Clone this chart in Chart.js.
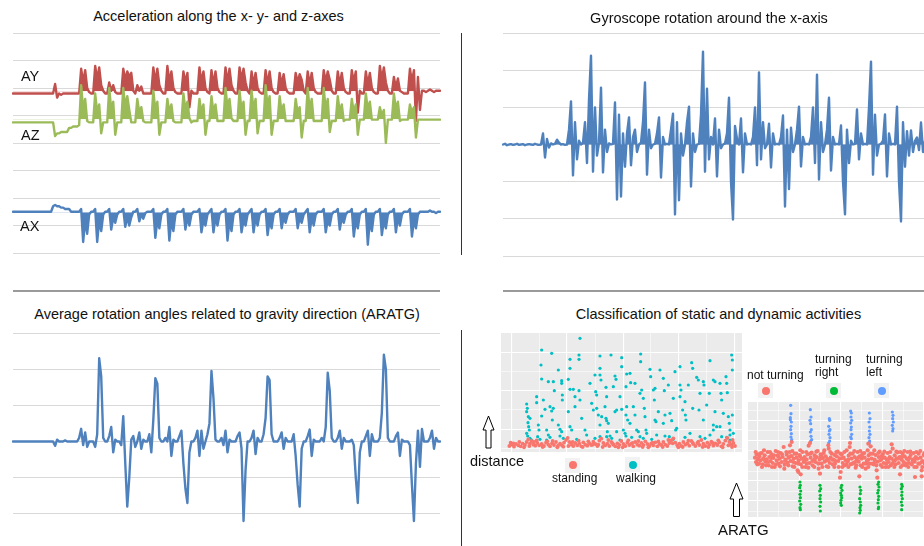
<!DOCTYPE html>
<html><head><meta charset="utf-8"><title>Sensor signals and activity classification</title>
<script src="https://cdn.jsdelivr.net/npm/chart.js@4.4.1/dist/chart.umd.min.js"></script>
<style>
html,body{margin:0;padding:0;background:#fff;width:924px;height:546px;overflow:hidden;position:relative;font-family:"Liberation Sans",Arial,sans-serif;color:#111}
canvas{position:absolute}
.t{position:absolute;white-space:nowrap;line-height:1}
.title{font-size:14.5px;text-align:center;width:460px}
.lab{font-size:14.5px}
.sm{font-size:12px}
.ln{position:absolute}
.key{position:absolute;width:15px;height:15px;background:#F2F2F2}
.key i{position:absolute;left:3.5px;top:3.5px;width:8px;height:8px;border-radius:50%}
svg{position:absolute;left:0;top:0}
</style></head>
<body>
<canvas id="acc"></canvas>
<canvas id="gyro"></canvas>
<canvas id="aratg"></canvas>
<canvas id="dist"></canvas>
<canvas id="turn"></canvas>

<div class="t title" style="left:-11.5px;top:9.4px">Acceleration along the x- y- and z-axes</div>
<div class="t title" style="left:479px;top:11px">Gyroscope rotation around the x-axis</div>
<div class="t title" style="left:-3px;top:307px">Average rotation angles related to gravity direction (ARATG)</div>
<div class="t title" style="left:488.5px;top:307px">Classification of static and dynamic activities</div>

<div class="t lab" style="left:21px;top:69.4px">AY</div>
<div class="t lab" style="left:21px;top:127.5px">AZ</div>
<div class="t lab" style="left:20px;top:218.5px">AX</div>

<div class="ln" style="left:461px;top:33px;width:1px;height:222px;background:#333"></div>
<div class="ln" style="left:461px;top:330px;width:1px;height:216px;background:#333"></div>
<div class="ln" style="left:13px;top:290px;width:427px;height:2px;background:#9a9a9a"></div>
<div class="ln" style="left:503px;top:290px;width:421px;height:2px;background:#9a9a9a"></div>

<div class="t lab" style="left:470px;top:454.2px">distance</div>
<div class="key" style="left:565px;top:457.5px"><i style="background:#F8766D"></i></div>
<div class="key" style="left:625px;top:457px"><i style="background:#00BFC4"></i></div>
<div class="t sm" style="left:552px;top:471.8px">standing</div>
<div class="t sm" style="left:616px;top:471.8px">walking</div>

<div class="t sm" style="left:747px;top:369.2px">not turning</div>
<div class="t sm" style="left:815px;top:352.5px">turning</div>
<div class="t sm" style="left:815px;top:365.8px">right</div>
<div class="t sm" style="left:866px;top:352.5px">turning</div>
<div class="t sm" style="left:866px;top:365.8px">left</div>
<div class="key" style="left:758px;top:383px"><i style="background:#F8766D"></i></div>
<div class="key" style="left:826px;top:383px"><i style="background:#00BA38"></i></div>
<div class="key" style="left:874px;top:383px"><i style="background:#619CFF"></i></div>
<div class="t" style="left:718px;top:522.3px;font-size:15px">ARATG</div>

<svg width="924" height="546">
<polygon points="488.5,416 494,430 491,430 491,448 486,448 486,430 483,430" fill="#fff" stroke="#000" stroke-width="1"/>
<polygon points="736.5,483 743,499 739.5,499 739.5,516.5 733.5,516.5 733.5,499 730,499" fill="#fff" stroke="#000" stroke-width="1"/>
</svg>

<script>
// ---------- Acceleration (sample index, offset units) ----------
const ACC_AY = [
18,18,18,18,18,18,18,18,18,18,18,18,18,18,18,18,18,18,18,18,18,
21.5,16.5,
18,17.5,18,18,18,18,18,18,18,18,18,
27,22,26.5,20,18.5,18,18,
28,23,27.5,21,19,18,18,
22,19,21,18.5,18,18,18,
27,23,26,24,25.5,19,18,
21,19,20.5,18,18,18,18,18,
27.5,22,27,21,19,18,18,
28,22,26,20,18.5,18,18,18,
26,22,25.5,13,19,18,18,18,
27.5,22,26,20,18.5,18,
26.5,21,26,20,18.5,18,18,
27.5,22,27,21,19,18,18,
27.5,23,27,22,19,18,
26,21,25.5,20,18.5,18,18,
26.5,21,26,20,18.5,18,18,
25.5,21,25,20,18.5,18,18,18,
25.5,22,25,23,19,18,
26,21,25.5,20,18.5,18,18,18,
26.5,22,26,23,19,18,18,
26,21,25.5,20,18.5,18,18,
26.5,22,26,11,19,18,18,
26,21,25.5,20,18.5,18,18,
28,23,27.5,22,19,18,18,
24,20,23.5,19,18.5,18,18,18,
27,22,26.5,8,24,12,19,
19,18.5,19,19.5,19,18.5,19,19,19
];
const ACC_AZ = [
7.5,7.5,7.5,7.5,7.5,7.5,7.5,7.5,7.5,7.5,7.5,7.5,7.5,7.5,7.5,7.5,7.5,7.5,7.5,7.5,7.5,
2.5,3.5,
3.5,4,4,4,4,5.5,5.5,6,6,6,6.5,
21,12,16,8,7.5,7.5,7.5,
18,11,14,3.5,7.5,7.5,7.5,
20,12,15,3,7.5,7.5,7.5,
20,13,17,12,7.5,7.5,7.5,
16,11,13,8,7.5,7.5,7.5,7.5,
19,12,15,3,7.5,7.5,7.5,
16,11,14,8,7.5,7.5,7.5,7.5,
18,12,15,9,7.5,8,8,8,
16,11,14,3,8,8,
17,11,14,8,8,8,8,
20,13,16,9,8,8,8,
19,12,15,3,8,8,
19,12,16,3.5,8,8,8,
21,13,17,3,8,8,8,
17,11,14,8,8,8,8,8,
16,11,13,2,8,8,
20,12,16,8,8,8,8,8,
20,12,16,4,8,8,8,
17,11,14,8,8.5,8.5,8.5,
16,11,14,3,8.5,8.5,8.5,
18,12,15,8.5,8.5,8.5,8.5,
13,10,12,0,8.5,8.5,8.5,
18,12,15,8,8.5,8.5,8.5,8.5,
14,11,13,2,8.5,8.5,8.5,
8.5,8.5,8.5,8.5,8.5,8.5,8.5,8.5,8.5
];
const ACC_AX = [
-25,-25,-25,-25,-25,-25,-25,-25,-25,-25,-25,-25,-25,-25,-25,-25,-25,-25,-25,-25,
-23,-22.5,-23,-23,-23.5,-23.5,-24,-24,-24,
-25,-25,-25,-25,-25,
-24,-36,-28,-33,-26,-25,-25,
-24,-36,-28,-32,-26,-25,-25,
-24,-31.5,-27,-29,-26,-25,-25,
-24,-30.5,-27,-30,-27,-25,-25,
-24,-28.5,-26,-27.5,-25.5,-25,-25,-25,
-24,-34.5,-28,-31,-26,-25,-25,
-24,-35.5,-28,-32,-26,-25,-25,-25,
-24,-31.5,-27,-30,-26,-25,-25,-25,
-24,-32.5,-28,-30,-26,-25,
-24,-32.5,-27,-30,-26,-25,-25,
-24,-35.5,-28,-32,-26,-25,-25,
-24,-32.5,-28,-30,-26,-25,
-24,-32.5,-27,-30,-26,-25,-25,
-24,-33.5,-28,-31,-26,-25,-25,
-24,-31,-27,-29,-26,-25,-25,-25,
-24,-31,-27,-29,-26,-25,
-24,-32.5,-27,-30,-26,-25,-25,-25,
-24,-32.5,-28,-30,-26,-25,-25,
-24,-31.5,-27,-29,-26,-25,-25,
-24,-34,-28,-31,-26,-25,-25,
-24,-37,-28,-32,-26,-25,-25,
-24,-33.5,-28,-31,-26,-25,-25,
-24,-32.5,-27,-30,-26,-25,-25,-25,
-24,-34,-28,-31,-26,-25,-25,
-25,-25,-25,-24.5,-25,-25,-25.5,-25,-25
];
const ACC_TICKS = [-40,-30,-20,-10,0,10,20,30,40];

// ---------- Gyroscope x (deg/s) ----------
const GYRO_X = [
0,2,-2,0,1,-1,0,2,-1,0,1,-2,0,1,0,-1,2,0,-1,0,
30,-35,15,-8,3,0,2,13,5,0,1,-1,0,
40,116,-83,60,-40,10,0,5,
60,-50,120,239,-73,100,-30,5,
153,-75,40,-20,3,0,2,
113,-148,80,-140,30,-60,30,73,-56,20,40,-20,0,
5,60,167,-81,40,-10,0,2,
30,73,-89,20,0,2,0,
40,83,-188,60,-150,30,-30,0,
60,102,-113,30,-20,0,2,
80,250,-73,150,-40,20,0,
70,-86,40,-10,0,3,
30,126,-100,-202,50,15,0,
70,-75,30,0,2,0,
20,100,-56,194,-40,60,-10,0,
56,-62,30,0,2,0,
20,78,-167,40,-120,45,-20,0,
40,102,-59,20,0,2,0,
20,100,-50,188,-94,60,-20,0,
40,126,-70,20,0,2,0,
51,-100,-188,40,-50,10,0,2,
94,-40,30,0,2,0,
100,223,-81,80,-30,0,2,
10,81,-86,30,0,2,0,
102,-100,-207,60,-60,
36,-30,38,-20,10,19,-15,59,-20,10,0,5,0,0
];
const GYRO_TICKS = [-300,-200,-100,0,100,200,300];

// ---------- ARATG (deg) ----------
const ARATG = [
0,0,0,0,0,0,0,0,0,0,0,0,0,0,0,0,0,0,0,0,0,
-1.2,0.5,0,0,0,0.3,0,0,0,0,0,0,
1,3.5,-1,2.5,-1.5,0,0,
0,-1.5,2,23,18,1,0,0,
1.5,4,-3,0.5,0,0,
-1,7,-6,-18,-10,0.5,
1.5,-1.5,0,2.5,-2,0.5,0,
0,2,-3,6,17.5,16,1,0,
0,1,0,4,-4,0.5,0,0,
1.5,3,-6,-13,-17,-3,0,
0,1,3,-4,3,-2,0,
2,5,19.5,12,0.5,0,
0,1,-1,3,-3,0.5,0,
0,0,1.5,2.5,-2,-22,-8,0,
0,1,3,-3.5,1,0,
0,2,6.5,18,17,2,0,
0,0,1,2.5,-2,1,0,
0,0,2,-4,-12,-18,-2,0,
0,1.5,3.3,-4,0.5,0,
0,0,1,0,4,19,14,1,0,
0,1,3,-2,1,0,
0,0,0.5,-1,-10,-17,-3,0,
0,1.5,3,-4,2,0,
0,0,1,8,24,20,1,0,
0,0,1.5,2.5,-4,0.5,0,
0,0,-1,-12,-22,-6,3,-7,3.5,0,
0,0,1,3,-2,1,0,0
];
const ARATG_TICKS = [-30,-20,-10,0,10,20,30];

// ---------- Classification by distance: [window, distance] ----------
const STANDING = [
[28,18],[35,22],[42,16],[48,24],[55,20],[62,17],[68,25],[75,21],[80,30],[85,38],[90,26],[95,33],[100,22],[106,19],[112,27],[118,20],[125,24],[132,18],[138,28],[145,22],[150,17],[156,26],[162,21],[168,30],[174,19],[180,25],[186,20],[192,28],[198,36],[203,42],[208,30],[214,22],[220,18],[226,27],[232,20],[238,25],[244,17],[250,29],[256,22],[262,19],[268,26],[274,21],[280,31],[286,24],[292,18],[298,34],[304,40],[310,27],[316,20],[322,25],[328,18],[334,30],[340,22],[346,17],[352,26],[358,21],[364,33],[370,24],[376,18],[382,28],[388,21],[394,25],[400,17],[406,30],[412,22],[418,19],[424,27],[430,21],[436,32],[442,24],[448,18],[454,26],[460,20],[466,29],[472,17],[478,24],[484,21],[490,30],[496,22],[502,18],[508,27],[514,35],[520,41],[526,28],[532,20],[538,25],[544,18],[550,30],[556,22],[562,26],[568,19],[574,33],[580,24],[586,18],[592,27],[598,21],[604,36],[610,25],[616,18],[622,28],[628,22],[634,31],[640,19],[646,26],[652,21],[658,29],[664,17],[670,24],[676,34],[682,42],[688,30],[694,22],[700,27],[705,18],
[32,28],[58,30],[88,18],[110,35],[142,32],[172,14],[205,18],[236,34],[265,32],[295,22],[325,36],[355,14],[385,35],[415,33],[445,14],[475,32],[505,36],[535,14],[565,34],[595,31],[625,15],[655,35],[685,20],[698,36],
[40,26],[72,14],[102,30],[128,15],[158,33],[190,16],[218,30],[248,15],[278,22],[308,15],[338,26],[368,14],[398,27],[428,15],[458,28],[488,15],[518,26],[548,15],[578,28],[608,15],[638,27],[668,14],[696,15]
];
const WALKING = [
[240,341],[125,306],[155,296],[123,261],[237,291],[237,278],[300,288],[333,291],[365,283],[365,256],[422,294],[422,271],[450,248],[480,246],[210,278],[210,251],[175,246],[125,219],[145,211],[160,211],[163,184],[185,214],[185,206],[187,171],[187,156],[110,166],[110,148],[80,144],[80,121],[85,106],[90,101],[130,156],[135,128],[125,108],[150,136],[155,123],[157,96],[160,131],[140,66],[145,51],[115,81],[117,66],[80,56],[83,48],[90,41],[113,46],[175,81],[180,68],[185,61],[205,218],[210,188],[220,188],[225,166],[205,121],[210,76],[215,66],[225,136],[237,184],[240,156],[245,101],[255,66],[270,206],[275,146],[280,126],[285,231],[287,181],[290,171],[300,251],[300,231],[303,216],[290,131],[295,111],[300,81],[305,106],[318,194],[320,166],[315,136],[318,101],[320,94],[325,86],[322,61],[330,48],[345,228],[348,218],[340,196],[345,121],[350,126],[360,166],[365,128],[380,234],[390,236],[378,196],[380,136],[378,111],[383,96],[390,86],[370,66],[375,56],[392,208],[405,206],[400,136],[405,111],[410,66],[415,61],[420,176],[425,186],[430,161],[433,131],[435,106],[438,66],[440,56],[452,226],[460,186],[465,191],[463,156],[465,96],[468,91],[475,121],[490,221],[493,184],[495,111],[490,86],[505,201],[510,116],[515,94],[520,161],[525,241],[527,66],[530,71],[540,256],[540,201],[543,186],[540,166],[548,126],[555,151],[556,111],[558,96],[575,268],[578,251],[565,201],[578,131],[590,224],[595,216],[600,176],[597,126],[610,211],[612,201],[610,96],[630,274],[628,176],[620,141],[640,216],[645,211],[645,121],[650,76],[660,206],[663,176],[665,156],[670,116],[678,226],[680,206],[682,178],[685,106],[688,86],[690,66],[695,291],[697,276],[697,246],[697,111],[690,51],[640,81],[660,76],[180,48],[120,38],[140,36],[300,46],[320,46],[350,61],[378,48],[420,46],[495,48],[508,46],[600,46],[640,66],[680,44],
[95,36],[150,44],[190,41],[230,38],[260,51],[285,41],[335,41],[360,36],[395,44],[430,41],[455,38],[470,51],[520,38],[555,44],[570,56],[615,41],[630,51],[665,46],[690,36],[700,56],[82,131],[84,88],[86,76],[88,66]
];
const DIST_XTICKS = [35,118,200,285,370,452,535,620,705];
const DIST_YTICKS = [11,68,126,183,241,298];

// ---------- Classification by ARATG: [window, ARATG] ----------
const NOT_TURNING = [
[45,178],[48,165],[50,188],[53,172],[57,160],[58,182],[62,170],[65,192],[68,158],[70,176],[74,185],[77,166],[80,173],[83,195],[86,155],[88,180],[92,168],[95,188],[98,162],[100,177],[104,150],[107,198],[110,170],[113,184],[116,160],[119,175],[122,192],[125,165],[128,180],[131,210],[134,157],[137,172],[140,187],[143,163],[146,178],[149,195],[152,168],[155,183],[158,152],[161,175],[164,190],[167,162],[170,178],[173,140],[176,170],[179,186],[182,158],[185,175],[188,195],[191,165],[194,180],[197,150],[200,172],[203,188],[206,214],[209,162],[212,178],[215,193],[218,155],[221,170],[224,185],[227,165],[230,180],[233,198],[236,145],[239,172],[242,188],[245,160],[248,176],[251,192],[254,166],[257,182],[260,152],[263,174],[266,205],[269,162],[272,178],[275,190],[278,158],[281,172],[284,186],[287,168],[290,182],[293,196],[296,150],[299,176],[302,135],[305,188],[308,162],[311,178],[314,155],[317,170],[320,200],[323,166],[326,184],[329,210],[332,158],[335,175],[338,190],[341,162],[344,180],[347,148],[350,172],[353,195],[356,166],[359,182],[362,155],[365,175],[368,190],[371,160],[374,178],[377,145],[380,168],[383,200],[386,185],[389,160],[392,212],[395,175],[398,190],[401,158],[404,172],[407,186],[410,140],[413,166],[416,180],[419,196],[422,156],[425,174],[428,188],[431,162],[434,178],[437,150],[440,172],[443,192],[446,165],[449,180],[452,155],[455,175],[458,205],[461,168],[464,185],[467,158],[470,176],[473,194],[476,162],[479,180],[482,150],[485,172],[488,190],[491,165],[494,182],[497,155],[500,175],[503,195],[506,162],[509,178],[512,186],[515,158],[518,172],[521,192],[524,166],[527,180],[530,150],[533,175],[536,190],[539,160],[542,178],[545,140],[548,168],[551,186],[554,160],[557,178],
[55,175],[75,170],[95,178],[115,182],[135,168],[160,165],[180,182],[200,160],[225,175],[245,182],[265,170],[285,160],[305,176],[325,172],[345,165],[365,185],[385,172],[405,165],[425,182],[445,174],[465,170],[485,180],[505,172],[525,175],[545,165],
[150,215],[155,225],[210,222],[265,215],[330,222],[385,220],[455,218],[240,130],[182,128],[300,118],[358,122],[412,118],[480,128],[175,135],[525,120],[545,122],
[47,195],[52,158],[60,190],[66,150],[72,200],[78,155],[84,165],[90,195],[96,150],[102,185],[108,158],[114,195],[120,152],[126,188],[133,145],[139,195],[145,155],[151,182],[157,198],[163,150],[169,190],[175,160],[181,200],[187,150],[193,170],[199,195],[205,148],[211,190],[217,168],[223,150],[229,196],[235,160],[241,180],[247,150],[253,200],[259,170],[265,150],[271,195],[277,172],[283,150],[289,195],[295,168],[301,190],[307,150],[313,195],[319,158],[325,150],[331,190],[337,160],[343,198],[349,155],[355,178],[361,198],[367,150],[373,192],[379,160],[385,150],[391,190],[397,160],[403,200],[409,155],[415,192],[421,170],[427,150],[433,196],[439,160],[445,150],[451,195],[457,160],[463,150],[469,196],[475,175],[481,195],[487,155],[493,198],[499,160],[505,150],[511,196],[517,165],[523,150],[529,195],[535,160],[541,198],[547,150],[553,192],[558,165]
];
const TURNING_LEFT = [
[152,335],[153,310],[151,298],[154,285],[153,272],[152,262],[154,250],[153,240],[155,232],[151,292],
[211,322],[213,300],[210,290],[212,280],[214,262],[211,255],[213,242],[215,232],[212,228],
[268,295],[269,290],[266,272],[270,262],[268,258],[267,248],[270,238],[269,228],[266,222],
[332,318],[334,312],[333,300],[335,290],[332,282],[334,270],[333,262],[335,248],[332,240],[334,235],
[388,312],[390,295],[387,285],[389,270],[388,258],[390,248],[387,238],[389,228],[388,222],
[457,315],[459,305],[458,295],[460,285],[457,275],[459,265],[458,258]
];
const TURNING_RIGHT = [
[180,105],[181,95],[179,88],[182,78],[180,68],[181,58],[179,48],[182,38],[180,28],[181,22],
[240,95],[242,85],[239,78],[241,65],[240,55],[242,45],[240,32],[241,18],
[305,95],[303,88],[306,80],[302,72],[304,65],[305,58],[303,50],[302,42],[304,35],
[360,90],[362,80],[361,70],[359,55],[361,45],[362,35],[360,28],[361,20],[359,12],
[416,105],[414,98],[417,90],[415,80],[413,72],[416,62],[415,52],[414,42],[416,30],[415,25],
[485,98],[487,92],[484,85],[486,75],[485,65],[487,55],[484,45],[486,35],[485,22]
];
const TURN_XTICKS = [52,115,178,240,303,365,428,490,552];
const TURN_YTICKS = [18,48,78,108,138,168,200,230,260,290,320];

// ---------- helpers ----------
const P = 8;
const NONE = 'rgba(0,0,0,0)';
function place(id, left, top, w, h){
  const c = document.getElementById(id);
  c.width = w + 2*P; c.height = h + 2*P;
  c.style.left = (left - P) + 'px'; c.style.top = (top - P) + 'px';
  return c;
}
const panelBg = {
  id: 'panelBg',
  beforeDraw(chart, args, opts){
    if (!opts || !opts.color) return;
    const a = chart.chartArea, ctx = chart.ctx;
    ctx.save(); ctx.fillStyle = opts.color; ctx.fillRect(a.left, a.top, a.width, a.height); ctx.restore();
  }
};
function baseOpts(){
  return {
    responsive:false, animation:false, devicePixelRatio:1, events:[],
    layout:{padding:P},
    plugins:{legend:{display:false}, tooltip:{enabled:false}, title:{display:false}},
  };
}
function lineChart(id, left, top, w, h, series, ticks){
  const n = Math.max(...series.map(s => s.data.length));
  const labels = Array.from({length:n}, (_, i) => i);
  const o = baseOpts();
  o.elements = {point:{radius:0}, line:{tension:0, borderJoinStyle:'round', borderCapStyle:'round'}};
  o.scales = {
    x:{type:'category', display:false, offset:false},
    y:{type:'linear', min:ticks[0], max:ticks[ticks.length-1], display:true,
       border:{display:false}, ticks:{display:false},
       grid:{color:'#D9D9D9', lineWidth:1, drawTicks:false},
       afterBuildTicks: s => { s.ticks = ticks.map(v => ({value:v})); }}
  };
  return new Chart(place(id, left, top, w, h), {
    type:'line',
    data:{labels, datasets: series.map(s => ({
      data:s.data, borderColor:s.color, borderWidth:2.4, pointRadius:0,
      fill: s.fill ? {target:{value:s.fill.base}, above:s.fill.above ? s.color : NONE, below:s.fill.below ? s.color : NONE} : false
    }))},
    options:o
  });
}
function gridW(ctx){ return (ctx.index % 2 === 0) ? 1.1 : 0.55; }
function scatterChart(id, left, top, w, h, xr, yr, xt, yt, sets){
  const o = baseOpts();
  o.plugins.panelBg = {color:'#EBEBEB'};
  o.scales = {
    x:{type:'linear', min:xr[0], max:xr[1], border:{display:false}, ticks:{display:false},
       grid:{color:'#FFFFFF', lineWidth:gridW, drawTicks:false},
       afterBuildTicks: s => { s.ticks = xt.map(v => ({value:v})); }},
    y:{type:'linear', min:yr[0], max:yr[1], border:{display:false}, ticks:{display:false},
       grid:{color:'#FFFFFF', lineWidth: c => (c.index % 2 === 1 ? 1.1 : 0.55), drawTicks:false},
       afterBuildTicks: s => { s.ticks = yt.map(v => ({value:v})); }}
  };
  return new Chart(place(id, left, top, w, h), {
    type:'scatter',
    data:{datasets: sets.map(s => ({
      data: s.data.map(p => ({x:p[0], y:p[1]})),
      pointRadius:s.r, pointBorderWidth:0, pointBackgroundColor:s.color, showLine:false
    }))},
    options:o, plugins:[panelBg]
  });
}

// ---------- charts ----------
lineChart('acc', 13, 33, 427, 220, [
  {data:ACC_AZ, color:'#9BBB59', fill:{base:8.6, above:true}},
  {data:ACC_AY, color:'#C0504D', fill:{base:18.8, above:true}},
  {data:ACC_AX, color:'#4F81BD', fill:{base:-25.2, below:true}}
], ACC_TICKS);

lineChart('gyro', 503, 33, 430, 223, [{data:GYRO_X, color:'#4F81BD', fill:{base:0, above:true, below:true}}], GYRO_TICKS);

lineChart('aratg', 13, 333, 427, 217, [{data:ARATG, color:'#4F81BD'}], ARATG_TICKS);

scatterChart('dist', 501, 333, 241, 119, [3,726], [0,357], DIST_XTICKS, DIST_YTICKS, [
  {data:STANDING, color:'#F8766D', r:1.9},
  {data:WALKING, color:'#00BFC4', r:1.6}
]);

scatterChart('turn', 748, 402, 192, 115, [24,600], [0,345], TURN_XTICKS, TURN_YTICKS, [
  {data:NOT_TURNING, color:'#F8766D', r:2.1},
  {data:TURNING_LEFT, color:'#619CFF', r:1.6},
  {data:TURNING_RIGHT, color:'#00BA38', r:1.6}
]);
</script>
</body></html>
